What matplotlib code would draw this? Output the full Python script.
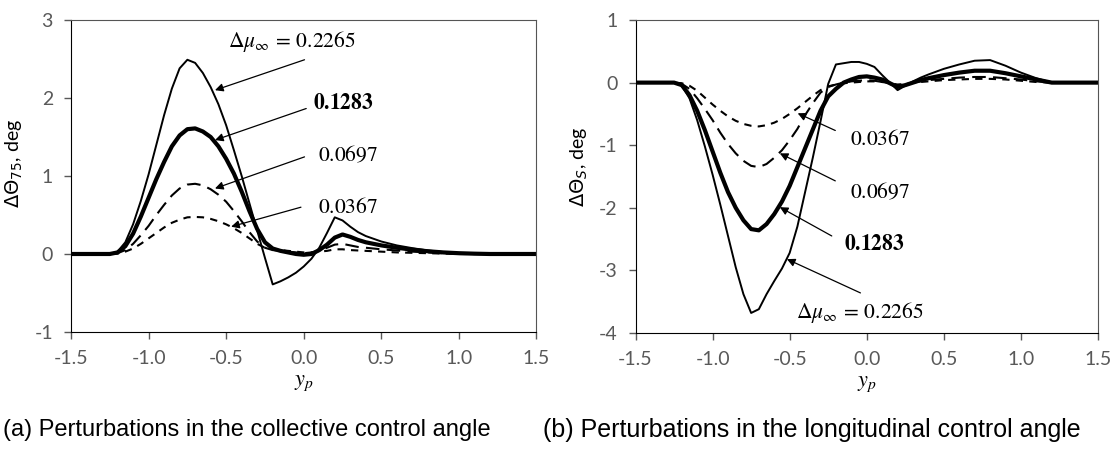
import numpy as np
import matplotlib
matplotlib.use('Agg')
import matplotlib.pyplot as plt

plt.rcParams['axes.unicode_minus'] = False

# y_p grid shared by all curves
y_p = [-1.5, -1.3, -1.25, -1.2, -1.15, -1.1, -1.05, -1.0, -0.95, -0.9, -0.85, -0.8, -0.75,
       -0.7, -0.65, -0.6, -0.55, -0.5, -0.45, -0.4, -0.35, -0.3, -0.25, -0.2, -0.15, -0.1,
       -0.05, 0.0, 0.05, 0.1, 0.15, 0.2, 0.25, 0.3, 0.35, 0.4, 0.5, 0.6, 0.7, 0.8, 0.9,
       1.0, 1.1, 1.2, 1.3, 1.5]

# (a) collective control angle perturbations, deg
coll_2265 = [0, 0, 0, 0.03, 0.15, 0.38, 0.68, 1.02, 1.4, 1.78, 2.12, 2.38, 2.49,
             2.45, 2.32, 2.14, 1.92, 1.65, 1.33, 1.0, 0.65, 0.3, -0.05, -0.39, -0.35, -0.3,
             -0.24, -0.16, -0.06, 0.08, 0.27, 0.47, 0.43, 0.35, 0.28, 0.23, 0.16, 0.11, 0.075, 0.045, 0.025,
             0.012, 0.005, 0, 0, 0]
coll_1283 = [0, 0, 0, 0.02, 0.1, 0.26, 0.48, 0.72, 0.96, 1.18, 1.38, 1.52, 1.6,
             1.61, 1.57, 1.5, 1.38, 1.22, 1.03, 0.8, 0.55, 0.32, 0.15, 0.07, 0.04, 0.02,
             0.0, -0.01, 0.0, 0.05, 0.12, 0.21, 0.25, 0.22, 0.18, 0.15, 0.11, 0.08, 0.055, 0.035, 0.02,
             0.01, 0.004, 0, 0, 0]
coll_0697 = [0, 0, 0, 0.01, 0.05, 0.13, 0.24, 0.36, 0.5, 0.63, 0.75, 0.84, 0.89,
             0.9, 0.88, 0.83, 0.76, 0.67, 0.55, 0.42, 0.28, 0.16, 0.08, 0.05, 0.04, 0.03,
             0.02, 0.01, 0.02, 0.04, 0.08, 0.12, 0.13, 0.11, 0.09, 0.08, 0.06, 0.045, 0.03, 0.02, 0.01,
             0.005, 0, 0, 0, 0]
coll_0367 = [0, 0, 0, 0.005, 0.03, 0.07, 0.13, 0.2, 0.27, 0.34, 0.4, 0.44, 0.47,
             0.475, 0.47, 0.45, 0.42, 0.38, 0.33, 0.27, 0.2, 0.13, 0.08, 0.06, 0.05, 0.04,
             0.03, 0.02, 0.02, 0.03, 0.04, 0.06, 0.06, 0.05, 0.045, 0.04, 0.03, 0.02, 0.015, 0.01, 0.005,
             0, 0, 0, 0, 0]

# (b) longitudinal control angle perturbations, deg
long_2265 = [0, 0, 0, -0.05, -0.25, -0.6, -1.02, -1.47, -1.95, -2.45, -2.95, -3.38, -3.68,
             -3.62, -3.38, -3.17, -2.97, -2.72, -2.3, -1.75, -1.2, -0.62, -0.02, 0.29, 0.31, 0.33,
             0.33, 0.3, 0.25, 0.12, 0.0, -0.12, -0.05, 0.02, 0.08, 0.13, 0.22, 0.29, 0.35, 0.36, 0.27,
             0.16, 0.07, 0, 0, 0]
long_1283 = [0, 0, 0, -0.04, -0.2, -0.45, -0.76, -1.1, -1.44, -1.75, -2.0, -2.2, -2.34,
             -2.36, -2.26, -2.1, -1.9, -1.65, -1.35, -1.05, -0.75, -0.45, -0.22, -0.1, 0.0, 0.05,
             0.09, 0.1, 0.08, 0.05, -0.01, -0.07, -0.04, 0.0, 0.04, 0.07, 0.12, 0.16, 0.19, 0.19, 0.15,
             0.1, 0.05, 0, 0, 0]
long_0697 = [0, 0, 0, -0.02, -0.1, -0.25, -0.42, -0.6, -0.8, -0.98, -1.13, -1.25, -1.33,
             -1.35, -1.3, -1.2, -1.08, -0.92, -0.74, -0.52, -0.33, -0.16, -0.07, -0.03, 0.0, 0.02,
             0.03, 0.04, 0.03, 0.01, -0.02, -0.05, -0.03, 0.0, 0.02, 0.04, 0.06, 0.08, 0.09, 0.09, 0.07,
             0.05, 0.02, 0, 0, 0]
long_0367 = [0, 0, 0, -0.01, -0.05, -0.13, -0.24, -0.35, -0.45, -0.54, -0.61, -0.66, -0.69,
             -0.7, -0.68, -0.64, -0.58, -0.5, -0.41, -0.31, -0.21, -0.12, -0.06, -0.03, -0.01, 0.0,
             0.01, 0.02, 0.02, 0.01, -0.01, -0.03, -0.02, 0.0, 0.01, 0.02, 0.04, 0.05, 0.06, 0.06, 0.05,
             0.03, 0.01, 0, 0, 0]

x_ticks = [-1.5, -1.0, -0.5, 0.0, 0.5, 1.0, 1.5]
captions = ['(a) Perturbations in the collective control angle',
            '(b) Perturbations in the longitudinal control angle']

fig = plt.figure(figsize=(11.13, 4.49), dpi=100)
ax1 = fig.add_axes([0.0638, 0.2606, 0.4182, 0.6949])
ax2 = fig.add_axes([0.571, 0.2584, 0.4155, 0.697])

def draw(ax, c2265, c1283, c0697, c0367):
    ax.plot(y_p, c2265, color='black', lw=1.4)
    ax.plot(y_p, c1283, color='black', lw=3.0)
    ax.plot(y_p, c0697, color='black', lw=1.5, dashes=(6.5, 3.5))
    ax.plot(y_p, c0367, color='black', lw=1.5, dashes=(3.5, 3.0))

def style(ax, ylim, ylabel, label_y):
    ax.set_xlim(-1.5, 1.5)
    ax.set_ylim(*ylim)
    ax.set_xticks(x_ticks)
    ax.set_xticklabels(['%.1f' % v for v in x_ticks])
    ax.set_yticks(range(ylim[0], ylim[1] + 1))
    ax.tick_params(direction='out', length=5, width=1, color='#595959',
                   labelcolor='#595959', labelsize=14, pad=8)
    for lab in ax.get_xticklabels() + ax.get_yticklabels():
        lab.set_fontfamily('Lato')
    ax.spines['left'].set_color('black')
    ax.spines['bottom'].set_color('black')
    ax.spines['top'].set_color('#555555')
    ax.spines['right'].set_color('#555555')
    ax.set_xlabel(r'$y_p$', fontsize=16, math_fontfamily='stix', labelpad=4)
    ax.set_ylabel(ylabel, fontsize=14, family='Lato', math_fontfamily='dejavusans')
    ax.yaxis.set_label_coords(-0.098, label_y)

def note(ax, label, txt_xy, tail, tip):
    ax.text(txt_xy[0], txt_xy[1], label, fontsize=15.5, math_fontfamily='stix',
            ha='left', va='center')
    ax.annotate('', xy=tip, xytext=tail,
                arrowprops=dict(arrowstyle='-|>', color='black', lw=0.9,
                                mutation_scale=12, shrinkA=0, shrinkB=0))

draw(ax1, coll_2265, coll_1283, coll_0697, coll_0367)
style(ax1, (-1, 3), r'$\Delta\Theta_{75}$, deg', 0.54)
note(ax1, r'$\Delta\mu_{\infty}\,=\,0.2265$', (-0.49, 2.72), (0.005, 2.49), (-0.572, 2.10))
note(ax1, r'$\mathbf{0.1283}$', (0.06, 1.93), (0.016, 1.865), (-0.572, 1.46))
note(ax1, r'$0.0697$', (0.09, 1.27), (0.005, 1.245), (-0.572, 0.84))
note(ax1, r'$0.0367$', (0.09, 0.60), (-0.018, 0.60), (-0.468, 0.35))

draw(ax2, long_2265, long_1283, long_0697, long_0367)
style(ax2, (-4, 1), r'$\Delta\Theta_S$, deg', 0.53)
note(ax2, r'$0.0367$', (-0.11, -0.90), (-0.204, -0.765), (-0.448, -0.49))
note(ax2, r'$0.0697$', (-0.11, -1.75), (-0.204, -1.57), (-0.564, -1.13))
note(ax2, r'$\mathbf{0.1283}$', (-0.145, -2.58), (-0.227, -2.45), (-0.564, -1.99))
note(ax2, r'$\Delta\mu_{\infty}\,=\,0.2265$', (-0.46, -3.68), (-0.041, -3.36), (-0.518, -2.82))

fig.text(0.003, 0.042, captions[0], fontsize=17, family='Liberation Sans', va='center')
fig.text(0.488, 0.042, captions[1], fontsize=18, family='Liberation Sans', va='center')

fig.savefig('out.png', dpi=100)
